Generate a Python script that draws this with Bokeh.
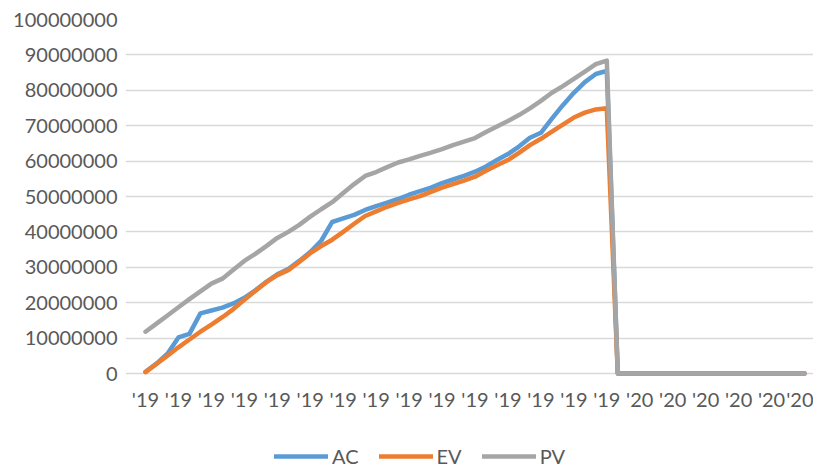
from bokeh.plotting import figure
from bokeh.models import (ColumnDataSource, FixedTicker, NumeralTickFormatter,
                          Legend, LegendItem, Range1d)
from bokeh.embed import file_html
from bokeh.resources import INLINE

# values in millions, one per period (61 periods)
UNIT = 1_000_000
periods = list(range(61))
ac = [0.5, 2.8, 5.6, 10.2, 11.2, 17.0, 17.8, 18.6, 19.8, 21.4,
      23.5, 25.9, 28.0, 29.5, 31.8, 34.3, 37.5, 42.8, 43.8, 44.8, 46.2,
      47.3, 48.3, 49.3, 50.5, 51.5, 52.5, 53.8, 54.8, 55.8, 57.0,
      58.5, 60.3, 62.0, 64.1, 66.6, 68.0, 72.0, 75.8, 79.3, 82.3, 84.6, 85.5,
      0, 0, 0, 0, 0, 0, 0, 0, 0, 0, 0, 0, 0, 0, 0, 0, 0, 0]
ev = [0.4, 2.7, 5.0, 7.4, 9.6, 11.8, 13.8, 15.9, 18.2, 20.8,
      23.3, 25.8, 27.8, 29.2, 31.5, 34.0, 36.0, 37.8, 40.0, 42.3, 44.5,
      45.8, 47.1, 48.2, 49.2, 50.1, 51.3, 52.5, 53.5, 54.5, 55.6,
      57.3, 58.8, 60.3, 62.3, 64.5, 66.3, 68.3, 70.3, 72.3, 73.7, 74.6, 74.9,
      0, 0, 0, 0, 0, 0, 0, 0, 0, 0, 0, 0, 0, 0, 0, 0, 0, 0]
pv = [11.8, 14.1, 16.4, 18.7, 21.0, 23.2, 25.4, 26.8, 29.3, 31.8,
      33.8, 36.0, 38.3, 40.0, 42.0, 44.3, 46.4, 48.4, 51.0, 53.5, 55.8,
      56.9, 58.3, 59.6, 60.5, 61.5, 62.4, 63.4, 64.5, 65.5, 66.5,
      68.2, 69.8, 71.3, 73.0, 74.9, 77.0, 79.3, 81.2, 83.2, 85.3, 87.4, 88.4,
      0, 0, 0, 0, 0, 0, 0, 0, 0, 0, 0, 0, 0, 0, 0, 0, 0, 0]
tick_positions = [0, 3, 6, 9, 12, 15, 18, 21, 24, 27, 30, 33, 36, 39, 42,
                  45, 48, 51, 54, 57, 60]
tick_labels = ["'19", "'19", "'19", "'19", "'19", "'19", "'19", "'19",
               "'19", "'19", "'19", "'19", "'19", "'19", "'19",
               "'20", "'20", "'20", "'20", "'20", "'20"]
y_ticks = [0, 10, 20, 30, 40, 50, 60, 70, 80, 90, 100]

FONT = "Lato"
TXT = "#595959"

src = ColumnDataSource(dict(
    x=periods,
    ac=[v * UNIT for v in ac],
    ev=[v * UNIT for v in ev],
    pv=[v * UNIT for v in pv],
))

# the frame is a little larger than the data area so that the x labels and
# the legend (drawn inside it) are not clipped; the data area itself spans
# 659 px for 60 periods and 354 px for 100M
PX_PER_PERIOD = 659 / 60
PX_PER_VALUE = 354 / (100 * UNIT)
X_LOW = -20 / PX_PER_PERIOD
X_HIGH = 60 + 9 / PX_PER_PERIOD
Y_LOW = -94 / PX_PER_VALUE

p = figure(frame_width=688, frame_height=448, output_backend="svg",
           toolbar_location=None,
           x_range=Range1d(X_LOW, X_HIGH), y_range=Range1d(Y_LOW, 100 * UNIT),
           min_border_left=125, min_border_right=0, min_border_top=19,
           min_border_bottom=0)
p.outline_line_color = None
p.background_fill_color = "white"
p.border_fill_color = "white"

lw = 4.5
r_ac = p.line("x", "ac", source=src, line_color="#5B9BD5", line_width=lw,
              line_join="round", line_cap="round")
r_ev = p.line("x", "ev", source=src, line_color="#ED7D31", line_width=lw,
              line_join="round", line_cap="round")
r_pv = p.line("x", "pv", source=src, line_color="#A5A5A5", line_width=lw,
              line_join="round", line_cap="round")

# axes
p.xaxis.ticker = FixedTicker(ticks=tick_positions)
p.xaxis.major_label_overrides = {t: l for t, l in zip(tick_positions, tick_labels)}
p.xaxis.fixed_location = 0
p.yaxis.ticker = FixedTicker(ticks=[v * UNIT for v in y_ticks])
p.yaxis.formatter = NumeralTickFormatter(format="0")
for ax in (p.xaxis[0], p.yaxis[0]):
    ax.axis_line_color = None
    ax.major_tick_line_color = None
    ax.minor_tick_line_color = None
    ax.major_tick_out = 0
    ax.major_tick_in = 0
    ax.major_label_text_font = FONT
    ax.major_label_text_font_size = "20px"
    ax.major_label_text_color = TXT
p.yaxis.major_label_standoff = 8
p.xaxis.major_label_standoff = 13

p.xgrid.grid_line_color = None
p.ygrid.grid_line_color = "#D9D9D9"
p.ygrid.grid_line_width = 1.5
p.ygrid.bounds = (0, 60)

legend = Legend(items=[
    LegendItem(label="AC", renderers=[r_ac]),
    LegendItem(label="EV", renderers=[r_ev]),
    LegendItem(label="PV", renderers=[r_pv]),
], orientation="horizontal", location=(149, -1))
legend.label_text_font = FONT
legend.label_text_font_size = "20px"
legend.label_text_color = TXT
legend.glyph_width = 54
legend.label_standoff = 4
legend.spacing = 20
legend.padding = 0
legend.margin = 0
legend.border_line_color = None
legend.background_fill_alpha = 0
p.add_layout(legend, "center")

open("out.html", "w").write(file_html(p, INLINE))
